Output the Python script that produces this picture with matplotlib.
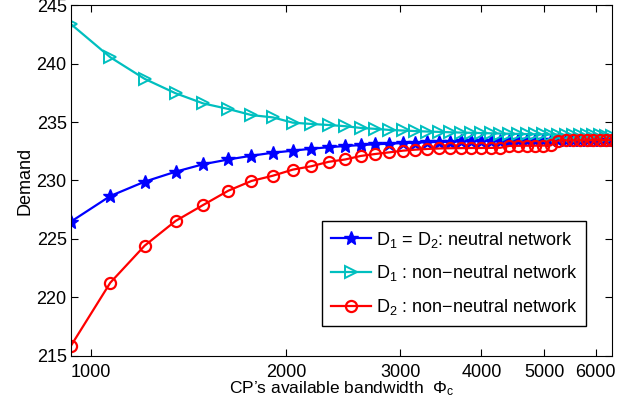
import matplotlib
matplotlib.use('Agg')
import matplotlib.pyplot as plt
from matplotlib.ticker import FixedLocator, NullLocator

plt.rcParams['font.family'] = ['Liberation Sans', 'DejaVu Sans']
plt.rcParams['mathtext.fontset'] = 'custom'
plt.rcParams['mathtext.rm'] = 'Liberation Sans'
plt.rcParams['mathtext.it'] = 'Liberation Sans'

# CP's available bandwidth (x axis, log scale)
bandwidth = [930, 1070, 1209, 1349, 1488, 1628, 1767, 1907, 2046, 2186,
             2325, 2465, 2604, 2744, 2883, 3023, 3162, 3302, 3441, 3581,
             3720, 3860, 3999, 4139, 4278, 4418, 4557, 4697, 4836, 4976,
             5115, 5255, 5394, 5534, 5673, 5813, 5952, 6092, 6231, 6371]

# D1 = D2, neutral network
d_neutral = [226.47, 228.67, 229.90, 230.75, 231.39, 231.80, 232.12, 232.38, 232.55, 232.72,
             232.85, 232.95, 233.03, 233.10, 233.15, 233.20, 233.24, 233.28, 233.30, 233.33,
             233.35, 233.37, 233.38, 233.40, 233.41, 233.42, 233.43, 233.44, 233.45, 233.46,
             233.46, 233.47, 233.47, 233.48, 233.48, 233.49, 233.49, 233.50, 233.50, 233.50]

# D1, non-neutral network
d1_nonneutral = [243.40, 240.55, 238.70, 237.47, 236.60, 236.12, 235.60, 235.40, 234.95, 234.84,
                 234.75, 234.65, 234.50, 234.42, 234.33, 234.28, 234.23, 234.19, 234.16, 234.13,
                 234.10, 234.08, 234.06, 234.04, 234.02, 234.00, 233.99, 233.97, 233.96, 233.95,
                 233.93, 233.92, 233.91, 233.90, 233.89, 233.88, 233.87, 233.86, 233.85, 233.84]

# D2, non-neutral network
d2_nonneutral = [215.83, 221.25, 224.42, 226.53, 227.90, 229.13, 229.96, 230.41, 230.93, 231.22,
                 231.60, 231.80, 232.10, 232.27, 232.41, 232.55, 232.64, 232.70, 232.74, 232.76,
                 232.77, 232.78, 232.78, 232.79, 232.80, 232.96, 232.97, 232.98, 232.98, 232.99,
                 233.00, 233.42, 233.43, 233.44, 233.44, 233.45, 233.45, 233.46, 233.46, 233.47]

x_ticks = [1000, 2000, 3000, 4000, 5000, 6000]
y_ticks = [215, 220, 225, 230, 235, 240, 245]

fig = plt.figure(figsize=(6.38, 4.04), dpi=100)
ax = fig.add_axes([0.111, 0.1196, 0.849, 0.8673])

ax.plot(bandwidth, d_neutral, '-*', color='blue', lw=1.6, ms=10,
        label='D$_1$ = D$_2$: neutral network')
ax.plot(bandwidth, d1_nonneutral, '->', color='#00bfbf', lw=1.6, ms=9,
        mfc='none', mew=1.4, label='D$_1$ : non\u2212neutral network')
ax.plot(bandwidth, d2_nonneutral, '-o', color='red', lw=1.6, ms=8,
        mfc='none', mew=1.6, label='D$_2$ : non\u2212neutral network')

ax.set_xscale('log')
ax.set_xlim(bandwidth[0], bandwidth[-1])
ax.set_ylim(215, 245)
ax.xaxis.set_major_locator(FixedLocator(x_ticks))
ax.xaxis.set_minor_locator(NullLocator())
ax.set_xticklabels([str(t) for t in x_ticks])
ax.set_yticks(y_ticks)
ax.tick_params(direction='in', top=True, right=True, labelsize=13, length=5)
ax.tick_params(axis='x', pad=6)
ax.tick_params(axis='y', pad=3)

ax.set_xlabel('CP\u2019s available bandwidth  $\\Phi_\\mathrm{c}$', fontsize=12.5, labelpad=-1)
ax.set_ylabel('Demand', fontsize=13, labelpad=2)

leg = ax.legend(loc='lower right', bbox_to_anchor=(0.952, 0.085), borderaxespad=0,
                fontsize=13, fancybox=False, edgecolor='black', framealpha=1,
                handlelength=2.2, handletextpad=0.3, labelspacing=0.75, borderpad=0.5)
leg.get_frame().set_linewidth(1.0)

fig.savefig('out.png', dpi=100)
